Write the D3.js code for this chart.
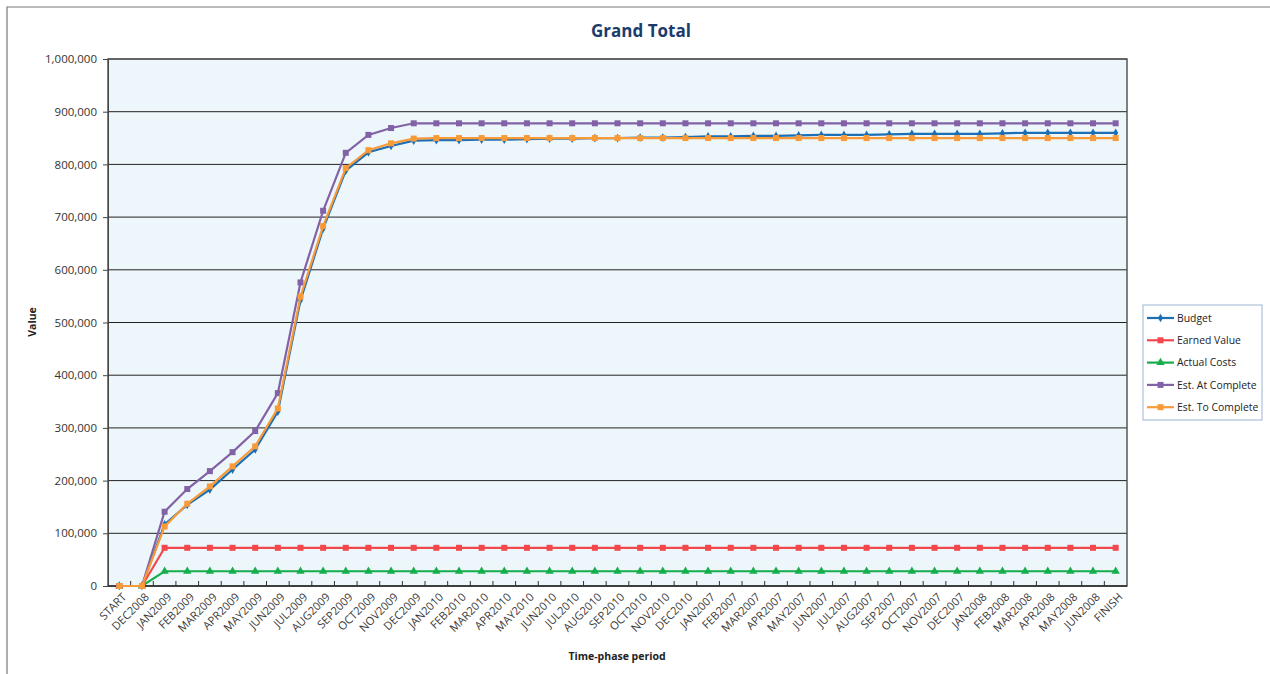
<!DOCTYPE html>
<html>
<head>
<meta charset="utf-8">
<script src="https://cdn.jsdelivr.net/npm/d3@7"></script>
<style>
  body { margin: 0; background: #fff; }
  svg { display: block; font-family: "Open Sans", "Lato", sans-serif; }
</style>
</head>
<body>
<div id="container"></div>
<script>
/* ---------- DATA ---------- */
const periods = ["START", "DEC2008",
  "JAN2009", "FEB2009", "MAR2009", "APR2009", "MAY2009", "JUN2009", "JUL2009", "AUG2009", "SEP2009", "OCT2009", "NOV2009", "DEC2009",
  "JAN2010", "FEB2010", "MAR2010", "APR2010", "MAY2010", "JUN2010", "JUL2010", "AUG2010", "SEP2010", "OCT2010", "NOV2010", "DEC2010",
  "JAN2007", "FEB2007", "MAR2007", "APR2007", "MAY2007", "JUN2007", "JUL2007", "AUG2007", "SEP2007", "OCT2007", "NOV2007", "DEC2007",
  "JAN2008", "FEB2008", "MAR2008", "APR2008", "MAY2008", "JUN2008", "FINISH"];

const budget = [0, 0,
  117000, 154000, 183000, 221000, 259000, 331000, 542000, 678000, 788000, 823000, 835000, 845000,
  846000, 846000, 847000, 847000, 848000, 849000, 849000, 850000, 850000, 851000, 851000, 852000,
  853000, 853000, 854000, 854000, 855000, 856000, 856000, 856000, 857000, 858000, 858000, 858000,
  858000, 859000, 860000, 860000, 860000, 860000, 860000];

const earnedValue = [0, 0,
  72500, 72500, 72500, 72500, 72500, 72500, 72500, 72500, 72500, 72500, 72500, 72500,
  72500, 72500, 72500, 72500, 72500, 72500, 72500, 72500, 72500, 72500, 72500, 72500,
  72500, 72500, 72500, 72500, 72500, 72500, 72500, 72500, 72500, 72500, 72500, 72500,
  72500, 72500, 72500, 72500, 72500, 72500, 72500];

const actualCosts = [0, 0,
  28000, 28000, 28000, 28000, 28000, 28000, 28000, 28000, 28000, 28000, 28000, 28000,
  28000, 28000, 28000, 28000, 28000, 28000, 28000, 28000, 28000, 28000, 28000, 28000,
  28000, 28000, 28000, 28000, 28000, 28000, 28000, 28000, 28000, 28000, 28000, 28000,
  28000, 28000, 28000, 28000, 28000, 28000, 28000];

const estAtComplete = [0, 0,
  141000, 184000, 218000, 254000, 294000, 366000, 576000, 712000, 822000, 856000, 869000, 878000,
  878000, 878000, 878000, 878000, 878000, 878000, 878000, 878000, 878000, 878000, 878000, 878000,
  878000, 878000, 878000, 878000, 878000, 878000, 878000, 878000, 878000, 878000, 878000, 878000,
  878000, 878000, 878000, 878000, 878000, 878000, 878000];

const estToComplete = [0, 0,
  113000, 156000, 189000, 227000, 265000, 337000, 549000, 683000, 793000, 827000, 840000, 849000,
  850000, 850000, 850000, 850000, 850000, 850000, 850000, 850000, 850000, 850000, 850000, 850000,
  850000, 850000, 850000, 850000, 850000, 850000, 850000, 850000, 850000, 850000, 850000, 850000,
  850000, 850000, 850000, 850000, 850000, 850000, 850000];

const seriesNames = ["Budget", "Earned Value", "Actual Costs", "Est. At Complete", "Est. To Complete"];
const yTicks = [0, 100000, 200000, 300000, 400000, 500000, 600000, 700000, 800000, 900000, 1000000];

/* ---------- CONSTANTS ---------- */
const width = 1270,
  height = 674,
  plot = { left: 108, right: 1127, top: 59, bottom: 586 };

const colors = ["#1c6fb5", "#f2474c", "#16ad4c", "#8262a6", "#f89a37"];
const markers = ["diamond", "square", "triangle", "square", "square"];

const series = [budget, earnedValue, actualCosts, estAtComplete, estToComplete]
  .map((values, i) => ({ name: seriesNames[i], color: colors[i], marker: markers[i], values }));

/* ---------- SCALES ---------- */
const xScale = d3.scaleBand()
  .domain(periods)
  .range([plot.left, plot.right])
  .padding(0);

const yScale = d3.scaleLinear()
  .domain([0, 1000000])
  .range([plot.bottom, plot.top]);

const cx = d => xScale(d) + xScale.bandwidth() / 2;

/* ---------- SVG ---------- */
const svg = d3.select("#container")
  .append("svg")
  .attr("width", width)
  .attr("height", height);

// outer chart border (cut at the right and bottom)
svg.append("path")
  .attr("d", `M7,${height + 5} L7,7 L${width + 5},7`)
  .attr("fill", "none")
  .attr("stroke", "#777")
  .attr("stroke-width", 1.2);

// title
svg.append("text")
  .attr("x", 641)
  .attr("y", 37)
  .attr("text-anchor", "middle")
  .attr("font-size", 17)
  .attr("font-weight", "bold")
  .attr("fill", "#1b3c6b")
  .text("Grand Total");

// plot background
svg.append("rect")
  .attr("x", plot.left)
  .attr("y", plot.top)
  .attr("width", plot.right - plot.left)
  .attr("height", plot.bottom - plot.top)
  .attr("fill", "#edf6fa");

// gridlines
svg.append("g")
  .selectAll("line")
  .data(yTicks)
  .join("line")
  .attr("x1", plot.left)
  .attr("x2", plot.right)
  .attr("y1", d => yScale(d))
  .attr("y2", d => yScale(d))
  .attr("stroke", "#222")
  .attr("stroke-width", 1);

// plot border
svg.append("rect")
  .attr("x", plot.left)
  .attr("y", plot.top)
  .attr("width", plot.right - plot.left)
  .attr("height", plot.bottom - plot.top)
  .attr("fill", "none")
  .attr("stroke", "#555")
  .attr("stroke-width", 1.5);

// y axis
const yAxis = d3.axisLeft(yScale)
  .tickValues(yTicks)
  .tickFormat(d3.format(","))
  .tickSizeInner(5)
  .tickSizeOuter(0)
  .tickPadding(6);

svg.append("g")
  .attr("transform", `translate(${plot.left},0)`)
  .call(yAxis)
  .call(g => g.select(".domain").attr("stroke", "#444"))
  .call(g => g.selectAll(".tick line").attr("stroke", "#444"))
  .call(g => g.selectAll("text")
    .attr("font-size", 11.5)
    .attr("font-family", "Open Sans, sans-serif")
    .attr("fill", "#333"));

// x axis: ticks at category boundaries, pointing into the plot
const xTickPos = periods.map(d => xScale(d)).concat([plot.right]);
svg.append("g")
  .selectAll("line")
  .data(xTickPos.slice(1, -1))
  .join("line")
  .attr("x1", d => d)
  .attr("x2", d => d)
  .attr("y1", plot.bottom)
  .attr("y2", plot.bottom - 5)
  .attr("stroke", "#333");

svg.append("line")
  .attr("x1", plot.left)
  .attr("x2", plot.right)
  .attr("y1", plot.bottom)
  .attr("y2", plot.bottom)
  .attr("stroke", "#333")
  .attr("stroke-width", 1.5);

svg.append("g")
  .selectAll("text")
  .data(periods)
  .join("text")
  .attr("transform", d => `translate(${cx(d) + 5},${plot.bottom + 9}) rotate(-45)`)
  .attr("text-anchor", "end")
  .attr("dy", "0.35em")
  .attr("font-size", 11.2)
  .attr("fill", "#3a3a3a")
  .text(d => d);

// axis titles
svg.append("text")
  .attr("x", 617)
  .attr("y", 660)
  .attr("text-anchor", "middle")
  .attr("font-size", 10.5)
  .attr("font-weight", "bold")
  .attr("fill", "#222")
  .text("Time-phase period");

svg.append("text")
  .attr("transform", "translate(36,322) rotate(-90)")
  .attr("text-anchor", "middle")
  .attr("font-size", 10.5)
  .attr("font-weight", "bold")
  .attr("fill", "#222")
  .text("Value");

/* ---------- LINES AND MARKERS ---------- */
const line = d3.line()
  .x((d, i) => cx(periods[i]))
  .y(d => yScale(d));

function markerPath(type) {
  if (type === "diamond") return d3.symbol(d3.symbolDiamond, 22)();
  if (type === "triangle") return d3.symbol(d3.symbolTriangle, 30)();
  return d3.symbol(d3.symbolSquare, 36)();
}

const seriesG = svg.append("g")
  .selectAll("g")
  .data(series)
  .join("g");

seriesG.append("path")
  .attr("d", d => line(d.values))
  .attr("fill", "none")
  .attr("stroke", d => d.color)
  .attr("stroke-width", 2.2);

seriesG.selectAll("path.marker")
  .data(d => d.values.map((v, i) => ({ v, i, s: d })))
  .join("path")
  .attr("class", "marker")
  .attr("transform", d => `translate(${cx(periods[d.i])},${yScale(d.v)})`)
  .attr("d", d => markerPath(d.s.marker))
  .attr("fill", d => d.s.color);

/* ---------- LEGEND ---------- */
const legend = svg.append("g");

legend.append("rect")
  .attr("x", 1143)
  .attr("y", 305)
  .attr("width", 119)
  .attr("height", 115)
  .attr("fill", "#fff")
  .attr("stroke", "#9db5d5")
  .attr("stroke-width", 1);

const legendItem = legend.selectAll("g.item")
  .data(series)
  .join("g")
  .attr("class", "item")
  .attr("transform", (d, i) => `translate(1147,${318 + i * 22.3})`);

legendItem.append("line")
  .attr("x1", 0)
  .attr("x2", 27)
  .attr("stroke", d => d.color)
  .attr("stroke-width", 2.2);

legendItem.append("path")
  .attr("transform", "translate(13.5,0)")
  .attr("d", d => markerPath(d.marker))
  .attr("fill", d => d.color);

legendItem.append("text")
  .attr("x", 30)
  .attr("dy", "0.35em")
  .attr("font-size", 10.4)
  .attr("fill", "#222")
  .text(d => d.name);
</script>
</body>
</html>
